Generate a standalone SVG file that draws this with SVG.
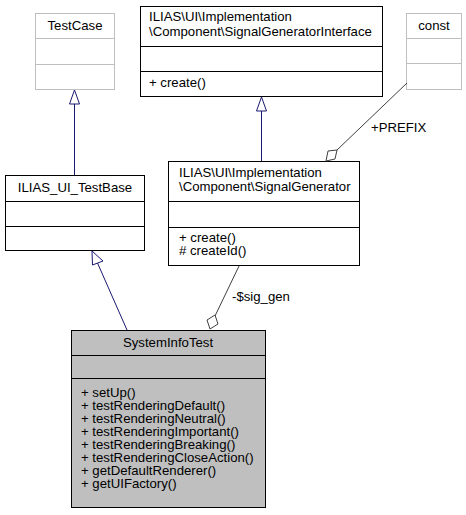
<svg xmlns="http://www.w3.org/2000/svg" width="466" height="515" viewBox="0 0 466 515">
<style>
text{font-family:"Liberation Sans",Arial,sans-serif;font-size:13.2px;fill:#000}
.c{text-anchor:middle}
.box{fill:#fff;stroke:#000;stroke-width:1}
.gbox{fill:#fff;stroke:#bfbfbf;stroke-width:1}
.gl{stroke:#bfbfbf;stroke-width:1}
.bl{stroke:#000;stroke-width:1}
.inh{stroke:#191970;stroke-width:1;fill:none}
.inhh{stroke:#191970;stroke-width:1;fill:#fff}
.agg{stroke:#404040;stroke-width:1;fill:none}
.aggh{stroke:#404040;stroke-width:1;fill:#fff}
</style>
<rect width="466" height="515" fill="#fff"/>
<g id="TestCase">
<rect class="gbox" x="35.5" y="13.5" width="79" height="76"/>
<line class="gl" x1="35.5" y1="38.5" x2="114.5" y2="38.5"/>
<line class="gl" x1="35.5" y1="64.5" x2="114.5" y2="64.5"/>
<text class="c" x="75" y="30">TestCase</text>
</g>
<g id="SignalGeneratorInterface">
<rect class="box" x="140.5" y="6.5" width="242" height="90"/>
<line class="bl" x1="140.5" y1="46.5" x2="382.5" y2="46.5"/>
<line class="bl" x1="140.5" y1="71.5" x2="382.5" y2="71.5"/>
<text x="149" y="21">ILIAS\UI\Implementation</text>
<text x="149" y="36">\Component\SignalGeneratorInterface</text>
<text x="149" y="87">+ create()</text>
</g>
<g id="const">
<rect class="gbox" x="406.5" y="13.5" width="55" height="76"/>
<line class="gl" x1="406.5" y1="38.5" x2="461.5" y2="38.5"/>
<line class="gl" x1="406.5" y1="63.5" x2="461.5" y2="63.5"/>
<text class="c" x="434" y="30">const</text>
</g>
<g id="ILIAS_UI_TestBase">
<rect class="box" x="5.5" y="175.5" width="139" height="75"/>
<line class="bl" x1="5.5" y1="201.5" x2="144.5" y2="201.5"/>
<line class="bl" x1="5.5" y1="226.5" x2="144.5" y2="226.5"/>
<text class="c" x="75" y="192">ILIAS_UI_TestBase</text>
</g>
<g id="SignalGenerator">
<rect class="box" x="168.5" y="161.5" width="191" height="104"/>
<line class="bl" x1="168.5" y1="201.5" x2="359.5" y2="201.5"/>
<line class="bl" x1="168.5" y1="227.5" x2="359.5" y2="227.5"/>
<text x="179" y="177">ILIAS\UI\Implementation</text>
<text x="179" y="191">\Component\SignalGenerator</text>
<text x="179" y="242">+ create()</text>
<text x="179" y="255"># createId()</text>
</g>
<g id="SystemInfoTest">
<rect x="71.5" y="330.5" width="194" height="177" fill="#bfbfbf" stroke="#000"/>
<line class="bl" x1="71.5" y1="355.5" x2="265.5" y2="355.5"/>
<line class="bl" x1="71.5" y1="378.5" x2="265.5" y2="378.5"/>
<text class="c" x="168" y="347">SystemInfoTest</text>
<text x="81" y="397">+ setUp()</text>
<text x="81" y="410">+ testRenderingDefault()</text>
<text x="81" y="423">+ testRenderingNeutral()</text>
<text x="81" y="436">+ testRenderingImportant()</text>
<text x="81" y="449">+ testRenderingBreaking()</text>
<text x="81" y="462">+ testRenderingCloseAction()</text>
<text x="81" y="475">+ getDefaultRenderer()</text>
<text x="81" y="488">+ getUIFactory()</text>
</g>
<g id="connectors">
<line class="inh" x1="74.5" y1="175" x2="74.5" y2="104"/>
<polygon class="inhh" points="74.5,90 69.5,104 79.5,104"/>
<line class="inh" x1="127" y1="330" x2="97.5" y2="263"/>
<polygon class="inhh" points="92,251 92.5,265 103,261"/>
<line class="inh" x1="261.5" y1="161" x2="261.5" y2="111"/>
<polygon class="inhh" points="261.5,97 256.5,111 266.5,111"/>
<line class="agg" x1="407" y1="83" x2="337" y2="150"/>
<polygon class="aggh" points="326,161 328,151 337,150 335,159"/>
<text x="371" y="132">+PREFIX</text>
<line class="agg" x1="239" y1="266" x2="215" y2="316"/>
<polygon class="aggh" points="210,329 207,320 215,315 218,324"/>
<text x="232" y="301">-$sig_gen</text>
</g>
</svg>
